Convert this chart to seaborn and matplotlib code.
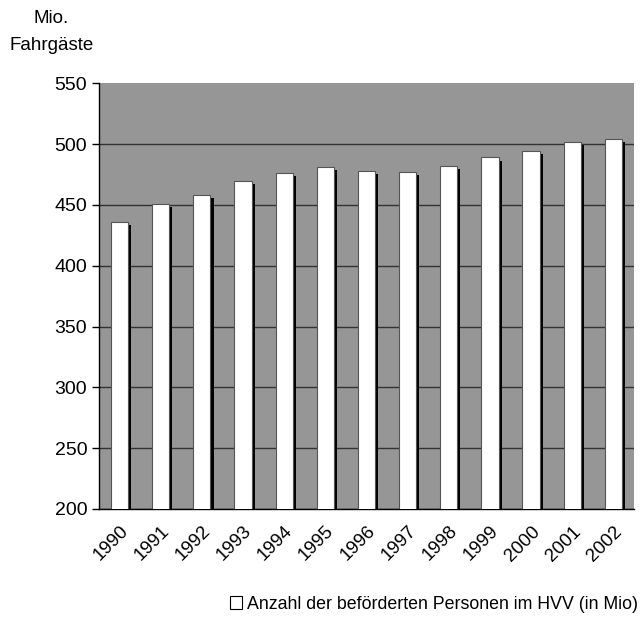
import matplotlib
matplotlib.use("Agg")
import matplotlib.pyplot as plt
import matplotlib.patheffects as pe
import matplotlib.transforms as mtransforms
from matplotlib.patches import Patch
import seaborn as sns
import pandas as pd

years = ["1990", "1991", "1992", "1993", "1994", "1995", "1996",
         "1997", "1998", "1999", "2000", "2001", "2002"]
passengers = [436, 451, 458, 470, 476, 481, 478, 477, 482, 489, 494, 502, 504]
y_ticks = [200, 250, 300, 350, 400, 450, 500, 550]
series_label = "Anzahl der beförderten Personen im HVV (in Mio)"

sns.set_theme(style="white")
plt.rcParams["font.family"] = ["Liberation Sans", "DejaVu Sans"]
plt.rcParams["text.color"] = "black"
plt.rcParams["xtick.color"] = "black"
plt.rcParams["ytick.color"] = "black"

df = pd.DataFrame({"Jahr": years, "Fahrgäste": passengers})

fig = plt.figure(figsize=(6.41, 6.26), dpi=100)
ax = fig.add_axes([0.1544, 0.187, 0.8346, 0.680])
ax.set_facecolor("#969696")

sns.barplot(data=df, x="Jahr", y="Fahrgäste", ax=ax, color="white",
            width=0.42, edgecolor="#555555", linewidth=0.8, zorder=3)
for bar in ax.patches:
    bar.set_path_effects([
        pe.SimplePatchShadow(offset=(2.2, -2.2), shadow_rgbFace="black", alpha=1.0),
        pe.Normal(),
    ])

ax.set_ylim(200, 550)
ax.set_yticks(y_ticks)
ax.set_yticklabels([str(v) for v in y_ticks], fontsize=14)
ax.yaxis.grid(True, color="#333333", linewidth=1.0, zorder=1)
ax.set_axisbelow(True)
fig.canvas.draw()
ax.yaxis.get_gridlines()[-1].set_visible(False)

n = len(years)
ax.set_xlim(-0.5, n - 0.5)
ax.set_xticks([i - 0.5 for i in range(n + 1)])
ax.set_xticklabels([])
ax.set_xticks(range(n), minor=True)
ax.set_xticklabels(years, minor=True, rotation=45, ha="right",
                   rotation_mode="anchor", fontsize=13.5)
shift = mtransforms.ScaledTranslation(-6 / 100, -6 / 100, fig.dpi_scale_trans)
for lbl in ax.get_xticklabels(minor=True):
    lbl.set_transform(lbl.get_transform() + shift)
ax.tick_params(axis="x", which="minor", length=0, pad=10)
ax.tick_params(axis="x", which="major", length=5, width=1, color="black", direction="out")
ax.tick_params(axis="y", length=5, width=1, color="black", direction="out", left=True)

for side in ["top", "right"]:
    ax.spines[side].set_visible(False)
for side in ["left", "bottom"]:
    ax.spines[side].set_color("black")
    ax.spines[side].set_linewidth(1.0)

ax.set_xlabel("")
ax.set_ylabel("")

fig.text(0.080, 0.970, "Mio.", ha="center", va="center", fontsize=13.5)
fig.text(0.080, 0.928, "Fahrgäste", ha="center", va="center", fontsize=13.5)

handle = Patch(facecolor="white", edgecolor="black", linewidth=0.8)
fig.legend([handle], [series_label], loc="center right", bbox_to_anchor=(1.0, 0.035),
           frameon=False, fontsize=12.8, handlelength=0.7, handleheight=0.7,
           handletextpad=0.3, borderaxespad=0.0, borderpad=0.15)

fig.savefig("out.png", dpi=100)
